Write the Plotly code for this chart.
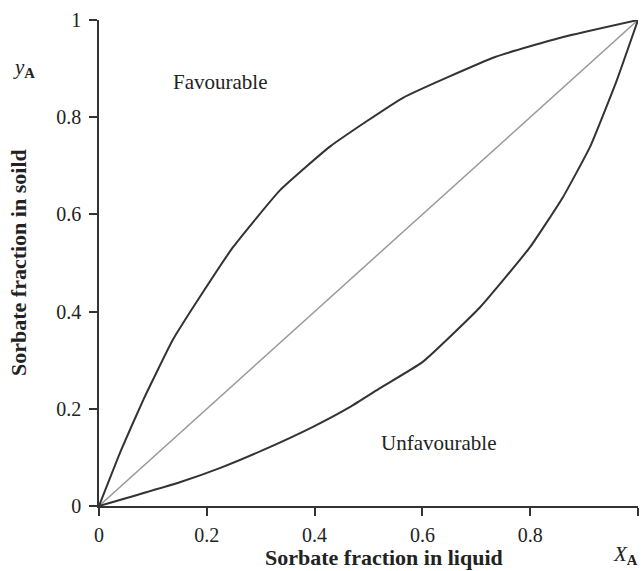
import plotly.graph_objects as go

# Data
fav_x = [0, 0.041, 0.082, 0.137, 0.187, 0.249, 0.336, 0.429, 0.564, 0.735, 0.861, 1.0]
fav_y = [0, 0.115, 0.218, 0.342, 0.430, 0.533, 0.650, 0.740, 0.840, 0.924, 0.965, 1.0]
unf_x = [0, 0.15, 0.224, 0.304, 0.397, 0.466, 0.522, 0.6, 0.707, 0.8, 0.861, 0.911, 0.961, 1.0]
unf_y = [0, 0.049, 0.078, 0.115, 0.163, 0.204, 0.243, 0.296, 0.409, 0.533, 0.636, 0.739, 0.877, 1.0]
lin_x = [0, 1]
lin_y = [0, 1]
tick_vals = [0, 0.2, 0.4, 0.6, 0.8, 1]
tick_text = ["0", "0.2", "0.4", "0.6", "0.8", "1"]

FONT = "Liberation Serif"
TXT = "#222222"

fig = go.Figure()
fig.add_trace(go.Scatter(x=lin_x, y=lin_y, mode="lines",
                         line=dict(color="#9a9a9a", width=1.5), cliponaxis=False))
fig.add_trace(go.Scatter(x=fav_x, y=fav_y, mode="lines",
                         line=dict(color="#333333", width=2, shape="spline", smoothing=0.4), cliponaxis=False))
fig.add_trace(go.Scatter(x=unf_x, y=unf_y, mode="lines",
                         line=dict(color="#333333", width=2, shape="spline", smoothing=0.4), cliponaxis=False))

axis_common = dict(
    range=[0, 1], showgrid=False, zeroline=False, showline=True,
    linecolor="#333333", linewidth=1.5, ticks="outside", ticklen=8,
    tickwidth=1.5, tickcolor="#333333", tickvals=tick_vals, ticktext=tick_text,
    tickfont=dict(family=FONT, size=20, color=TXT),
)

W, H, L, R, T, B = 642, 571, 99, 4, 20, 65
pw, ph = W - L - R, H - T - B

fig.update_layout(
    width=W, height=H,
    margin=dict(l=L, r=R, t=T, b=B),
    paper_bgcolor="white", plot_bgcolor="white",
    showlegend=False,
    xaxis=dict(**axis_common, ticklabelstandoff=2),
    yaxis=dict(**axis_common, ticklabelstandoff=4),
)


def px_anno(px, py, text, size, angle=0):
    return dict(x=(px - L) / pw, y=(H - B - py) / ph, xref="paper", yref="paper",
                xanchor="center", yanchor="middle", text=text, textangle=angle,
                font=dict(family=FONT, size=size, color=TXT), showarrow=False)


annos = [
    dict(x=0.224, y=0.872, xref="x", yref="y", text="Favourable",
         xanchor="center", yanchor="middle",
         font=dict(family=FONT, size=21, color=TXT), showarrow=False),
    dict(x=0.629, y=0.13, xref="x", yref="y", text="Unfavourable",
         xanchor="center", yanchor="middle",
         font=dict(family=FONT, size=21, color=TXT), showarrow=False),
    px_anno(384, 557, "<b>Sorbate fraction in liquid</b>", 22),
    px_anno(18, 263, "<b>Sorbate fraction in soild</b>", 22, -90),
    px_anno(24, 68, "<i>y</i><sub><b>A</b></sub>", 21),
    px_anno(625, 555, "<i>X</i><sub><b>A</b></sub>", 21),
]
fig.update_layout(annotations=annos)

fig.write_html("out.html")
